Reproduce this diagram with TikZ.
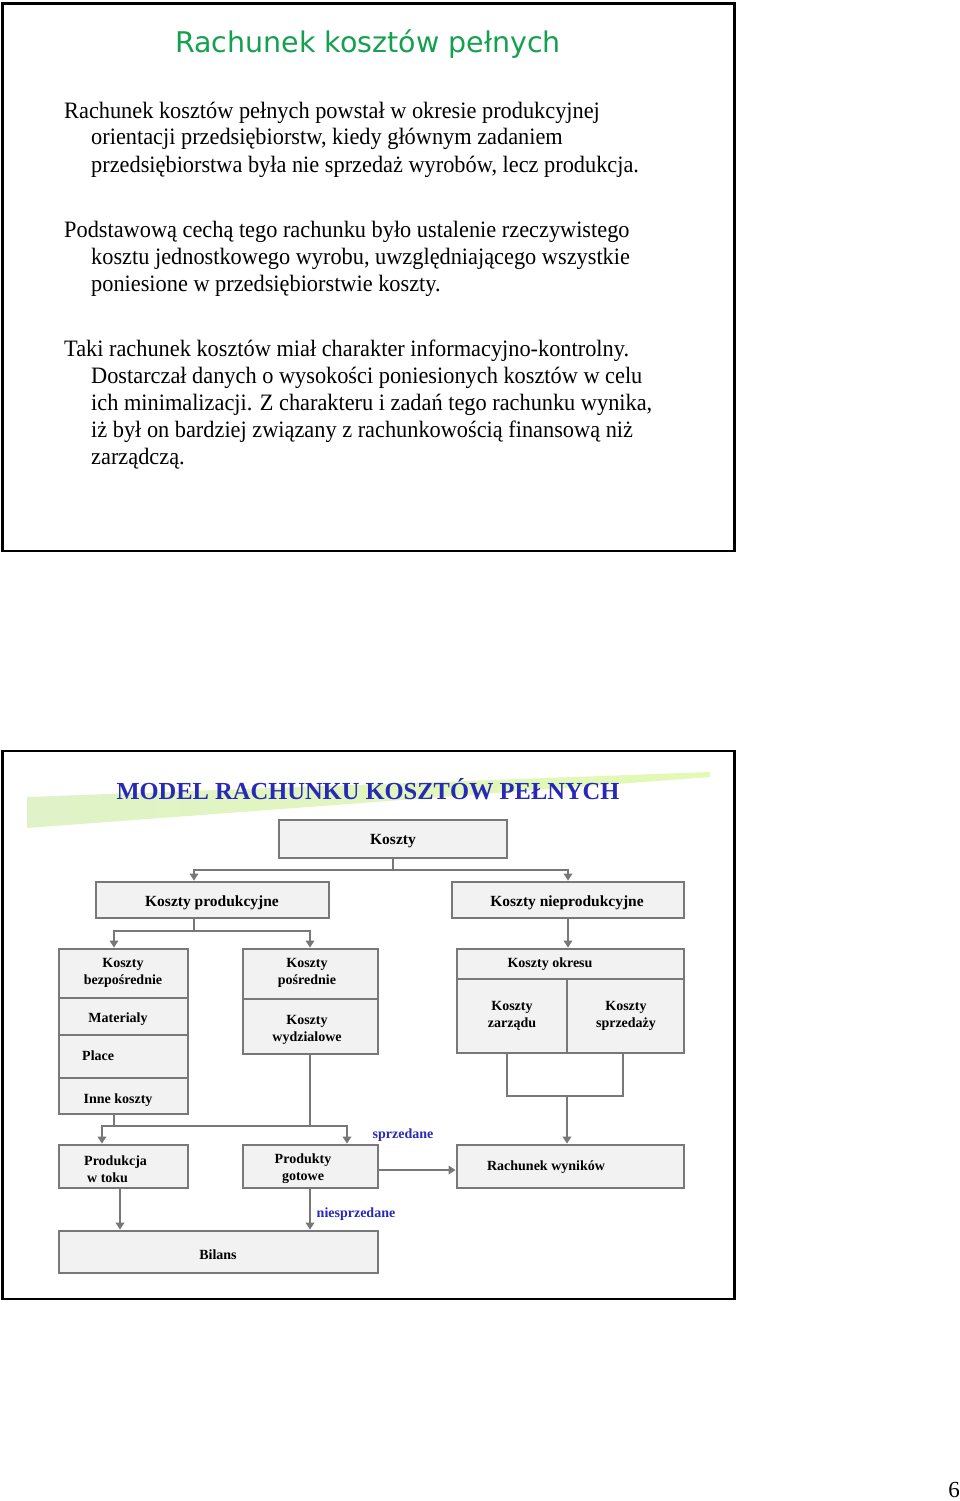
\documentclass[tikz,border=0pt]{standalone}
\usepackage{fontspec}
\setmainfont{Liberation Serif}
\newfontfamily\titlefont{DejaVu Sans}
\newfontfamily\bodyfont[FakeStretch=0.95]{Liberation Serif}
\usetikzlibrary{arrows.meta}
\definecolor{ttlgreen}{RGB}{20,160,80}
\definecolor{ttlblue}{RGB}{40,40,185}
\definecolor{boxgray}{RGB}{120,120,120}
\definecolor{boxfill}{RGB}{242,242,242}
\definecolor{wedgeL}{RGB}{224,242,200}
\definecolor{wedgeR}{RGB}{226,250,180}
\begin{document}
\begin{tikzpicture}[x=1pt,y=-1pt,
  box/.style={draw=boxgray, fill=boxfill, line width=2.8pt, inner sep=0pt},
  lbl/.style={font=\fontsize{14}{17}\selectfont\bfseries, align=center, inner sep=0pt, yshift=-2pt},
  lblbig/.style={font=\fontsize{15.5}{18}\selectfont\bfseries, inner sep=0pt, yshift=-2pt},
  conn/.style={draw=boxgray, line width=2.8pt},
  arr/.style={conn, -{Triangle[length=7pt,width=8.5pt]}},
  body/.style={anchor=base west, inner sep=0pt, font=\bodyfont\fontsize{23.5}{27}\selectfont},
  tag/.style={font=\fontsize{14}{17}\selectfont\bfseries, text=ttlblue, inner sep=0pt, yshift=-2pt},
  frame/.style={draw=black, line width=2.2pt}]
\useasboundingbox (0,0) rectangle (960,1501);

% ---------- slide 1 ----------
\draw[frame] (2.5,3.5) rectangle (734.5,551);
\node[anchor=base, inner sep=0pt, text=ttlgreen, font=\titlefont\fontsize{28.5}{32}\selectfont] (t1) at (368,53) {Rachunek kosztów pełnych};

\node[body] (p1a) at (64,118) {Rachunek kosztów pełnych powstał w okresie produkcyjnej};
\node[body] (p1b) at (91,145) {orientacji przedsiębiorstw, kiedy głównym zadaniem};
\node[body] (p1c) at (91,172) {przedsiębiorstwa była nie sprzedaż wyrobów, lecz produkcja.};

\node[body] (p2a) at (64,237) {Podstawową cechą tego rachunku było ustalenie rzeczywistego};
\node[body] (p2b) at (91,264) {kosztu jednostkowego wyrobu, uwzględniającego wszystkie};
\node[body] (p2c) at (91,291) {poniesione w przedsiębiorstwie koszty.};

\node[body] (p3a) at (64,356) {Taki rachunek kosztów miał charakter informacyjno-kontrolny.};
\node[body] (p3b) at (91,383) {Dostarczał danych o wysokości poniesionych kosztów w celu};
\node[body] (p3c) at (91,410) {ich minimalizacji. Z charakteru i zadań tego rachunku wynika,};
\node[body] (p3d) at (91,437) {iż był on bardziej związany z rachunkowością finansową niż};
\node[body] (p3e) at (91,464) {zarządczą.};

% ---------- slide 2 ----------
\draw[frame] (2.5,751) rectangle (734.5,1299);
\shade[left color=wedgeL, right color=wedgeR] (27,828) -- (27,797) -- (710,772) -- (710,777) -- cycle;
\node[anchor=base, inner sep=0pt, text=ttlblue, font=\fontsize{24.5}{28}\selectfont\bfseries] (t2) at (368,799) {MODEL RACHUNKU KOSZTÓW PEŁNYCH};

% boxes
\node[box, minimum width=228pt, minimum height=38pt] (koszty) at (393,839) {};
\node[box, minimum width=233pt, minimum height=36pt] (kprod) at (212.5,900) {};
\node[box, minimum width=232pt, minimum height=36pt] (knprod) at (568,900) {};

\node[box, minimum width=129pt, minimum height=49pt] (kbezp) at (123.5,973.5) {};
\node[box, minimum width=129pt, minimum height=37pt] (mat) at (123.5,1016.5) {};
\node[box, minimum width=129pt, minimum height=43pt] (place) at (123.5,1056.5) {};
\node[box, minimum width=129pt, minimum height=36pt] (inne) at (123.5,1096) {};

\node[box, minimum width=135pt, minimum height=50pt] (kposr) at (310.5,974) {};
\node[box, minimum width=135pt, minimum height=55pt] (kwydz) at (310.5,1026.5) {};

\node[box, minimum width=227pt, minimum height=30pt] (kokres) at (570.5,964) {};
\node[box, minimum width=110pt, minimum height=74pt] (kzarz) at (512,1016) {};
\node[box, minimum width=117pt, minimum height=74pt] (ksprz) at (625.5,1016) {};

\node[box, minimum width=129pt, minimum height=43pt] (prod) at (123.5,1166.5) {};
\node[box, minimum width=135pt, minimum height=43pt] (gotowe) at (310.5,1166.5) {};
\node[box, minimum width=227pt, minimum height=43pt] (rach) at (570.5,1166.5) {};
\node[box, minimum width=319pt, minimum height=42pt] (bilans) at (218.5,1252) {};

% labels
\node[lblbig] (lkoszty) at (393,839) {Koszty};
\node[lblbig] (lkprod) at (212,901) {Koszty produkcyjne};
\node[lblbig] (lknprod) at (567,901) {Koszty nieprodukcyjne};
\node[lbl] (lkbezp) at (123,970.5) {Koszty\\bezpośrednie};
\node[lbl] (lmat) at (118,1017) {Materialy};
\node[lbl, anchor=west] (lplace) at (82,1054) {Place};
\node[lbl] (linne) at (118,1098) {Inne koszty};
\node[lbl] (lkposr) at (307,970.5) {Koszty\\pośrednie};
\node[lbl] (lkwydz) at (307,1028) {Koszty\\wydzialowe};
\node[lbl] (lkokres) at (550,962) {Koszty okresu};
\node[lbl] (lkzarz) at (512,1013.5) {Koszty\\zarządu};
\node[lbl] (lksprz) at (626,1013.5) {Koszty\\sprzedaży};
\node[lbl, align=left, anchor=west] (lprod) at (84,1167) {Produkcja\\\hspace*{3pt}w toku};
\node[lbl] (lgotowe) at (303,1167) {Produkty\\gotowe};
\node[lbl] (lrach) at (546,1165) {Rachunek wyników};
\node[lbl] (lbilans) at (218,1253) {Bilans};
\node[tag] (lsprz) at (403,1133) {sprzedane};
\node[tag] (lniesprz) at (356,1212) {niesprzedane};

% connector points
\coordinate (a1) at (194,870);
\coordinate (a2) at (568,870);
\coordinate (b0) at (194,931);
\coordinate (b1) at (114,931);
\coordinate (b2) at (310,931);
\coordinate (c1) at (507,1096);
\coordinate (c2) at (623,1096);
\coordinate (c0) at (567,1096);
\coordinate (d1) at (102,1126);
\coordinate (d2) at (347,1126);
\coordinate (e1) at (120,1200);
\coordinate (f1) at (420,1170);

% connectors
\draw[arr] (koszty.south) |- (a1) -- (a1 |- kprod.north);
\draw[arr] (koszty.south |- a1) -- (a2) -- (a2 |- knprod.north);
\draw[arr] (kprod.south -| b0) -- (b0) -- (b1) -- (b1 |- kbezp.north);
\draw[arr] (b0) -- (b2) -- (b2 |- kposr.north);
\draw[arr] (knprod.south -| a2) -- (kokres.north -| a2);
\draw[conn] (kzarz.south -| c1) -- (c1) -- (c2) -- (ksprz.south -| c2);
\draw[arr] (c0) -- (c0 |- rach.north);
\draw[arr] (inne.south -| b1) |- (d1) -- (d1 |- prod.north);
\draw[arr] (kwydz.south -| b2) |- (d2) -- (d2 |- gotowe.north);
\draw[conn] (b1 |- d1) -- (b2 |- d1);
\draw[arr] (prod.south -| e1) -- (bilans.north -| e1);
\draw[arr] (gotowe.south -| b2) -- (bilans.north -| b2);
\draw[arr] (gotowe.east |- f1) -- (rach.west |- f1);

% page number
\node[anchor=base east, inner sep=0pt, font=\fontsize{23}{26}\selectfont] (pg) at (960,1497) {6};
\end{tikzpicture}
\end{document}
